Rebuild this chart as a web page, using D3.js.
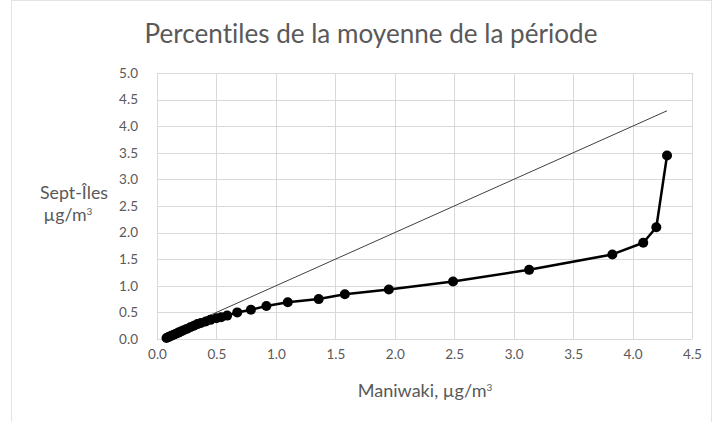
<!DOCTYPE html>
<html>
<head>
<meta charset="utf-8">
<script src="https://cdn.jsdelivr.net/npm/d3@7"></script>
<style>
  html, body { margin: 0; padding: 0; background: #fff; }
  svg { display: block; }
  text {
    font-family: Lato, "Open Sans", "Liberation Sans", sans-serif; fill: #595959;
    font-variant-ligatures: none;
    font-feature-settings: "liga" 0, "clig" 0, "dlig" 0, "calt" 0;
    letter-spacing: 0.01px;
  }
</style>
</head>
<body>
<svg id="chart" width="715" height="422"></svg>
<script>
// Percentile values: Maniwaki (x) vs Sept-Îles (y), in µg/m³
const maniwaki = [0.08, 0.10, 0.12, 0.14, 0.16, 0.18, 0.20, 0.22, 0.25, 0.28, 0.31, 0.34, 0.37, 0.41, 0.45, 0.50, 0.54,
                  0.59, 0.675, 0.79, 0.92, 1.10, 1.36, 1.58, 1.95, 2.49, 3.13, 3.83, 4.09, 4.20, 4.29];
const septIles = [0.02, 0.04, 0.06, 0.08, 0.10, 0.12, 0.14, 0.16, 0.19, 0.22, 0.25, 0.28, 0.30, 0.33, 0.36, 0.39, 0.41,
                  0.44, 0.50, 0.55, 0.62, 0.69, 0.75, 0.84, 0.93, 1.08, 1.30, 1.59, 1.81, 2.10, 3.45];
// Reference line y = x
const refLine = [0.07, 4.29];

const xTicks = [0, 0.5, 1, 1.5, 2, 2.5, 3, 3.5, 4, 4.5];
const yTicks = [0, 0.5, 1, 1.5, 2, 2.5, 3, 3.5, 4, 4.5, 5];

const titleText = "Percentiles de la moyenne de la période";
const xTitle = "Maniwaki, µg/m";
const yTitle1 = "Sept-Îles";
const yTitle2 = "µg/m";

const svg = d3.select("#chart");
const plot = { left: 157, right: 692, top: 73, bottom: 339 };

const x = d3.scaleLinear().domain([0, 4.5]).range([plot.left, plot.right]);
const y = d3.scaleLinear().domain([0, 5]).range([plot.bottom, plot.top]);

// Scale a text element's font so it spans the given width
function fitWidth(sel, base, width) {
  const w = sel.node().getComputedTextLength();
  sel.style("font-size", (base * width / w).toFixed(2) + "px");
}

// Chart frame
svg.append("rect")
  .attr("x", 11.5).attr("y", 0.5).attr("width", 700).attr("height", 440)
  .attr("fill", "none").attr("stroke", "#e3e3e3").attr("stroke-width", 1);

// Gridlines
svg.append("g").selectAll("line").data(yTicks).join("line")
  .attr("x1", plot.left).attr("x2", plot.right)
  .attr("y1", d => Math.round(y(d)) + 0.5).attr("y2", d => Math.round(y(d)) + 0.5)
  .attr("stroke", "#d9d9d9").attr("stroke-width", 1);
svg.append("g").selectAll("line").data(xTicks).join("line")
  .attr("y1", plot.top).attr("y2", plot.bottom)
  .attr("x1", d => Math.round(x(d)) + 0.5).attr("x2", d => Math.round(x(d)) + 0.5)
  .attr("stroke", "#d9d9d9").attr("stroke-width", 1);

// Axes (labels only)
const xAxis = d3.axisBottom(x).tickValues(xTicks).tickFormat(d3.format(".1f")).tickSize(0).tickPadding(10);
const gx = svg.append("g").attr("transform", `translate(0,${plot.bottom})`).call(xAxis);
gx.select(".domain").remove();
gx.selectAll("text").style("font-size", "13.5px").style("font-family", "Lato, sans-serif").attr("fill", "#595959");

const yAxis = d3.axisLeft(y).tickValues(yTicks).tickFormat(d3.format(".1f")).tickSize(0).tickPadding(19);
const gy = svg.append("g").attr("transform", `translate(${plot.left},0)`).call(yAxis);
gy.select(".domain").remove();
gy.selectAll("text").style("font-size", "13.5px").style("font-family", "Lato, sans-serif").attr("fill", "#595959");

// y = x reference line
svg.append("line")
  .attr("x1", x(refLine[0])).attr("y1", y(refLine[0]))
  .attr("x2", x(refLine[1])).attr("y2", y(refLine[1]))
  .attr("stroke", "#404040").attr("stroke-width", 1);

// Percentile series
const pts = maniwaki.map((v, i) => [v, septIles[i]]);
svg.append("path")
  .datum(pts)
  .attr("fill", "none").attr("stroke", "#000").attr("stroke-width", 2.5)
  .attr("stroke-linejoin", "round")
  .attr("d", d3.line().x(d => x(d[0])).y(d => y(d[1])));
svg.append("g").selectAll("circle").data(pts).join("circle")
  .attr("cx", d => x(d[0])).attr("cy", d => y(d[1])).attr("r", 5)
  .attr("fill", "#000");

// Title
const title = svg.append("text")
  .attr("x", 371).attr("y", 43).attr("text-anchor", "middle")
  .style("font-size", "22px").text(titleText);
fitWidth(title, 22, 453);

// Axis titles
const xt = svg.append("text").attr("x", 425).attr("y", 397).attr("text-anchor", "middle")
  .style("font-size", "15px");
xt.append("tspan").text(xTitle);
xt.append("tspan").attr("dy", -6).style("font-size", "10px").text("3");
fitWidth(xt, 15, 136);

const yt1 = svg.append("text").attr("x", 74).attr("y", 199).attr("text-anchor", "middle")
  .style("font-size", "15px").text(yTitle1);
fitWidth(yt1, 15, 68);
const yt2 = svg.append("text").attr("x", 68).attr("y", 221).attr("text-anchor", "middle")
  .style("font-size", yt1.style("font-size"));
yt2.append("tspan").text(yTitle2);
yt2.append("tspan").attr("dy", -6).style("font-size", "10px").text("3");
</script>
</body>
</html>
